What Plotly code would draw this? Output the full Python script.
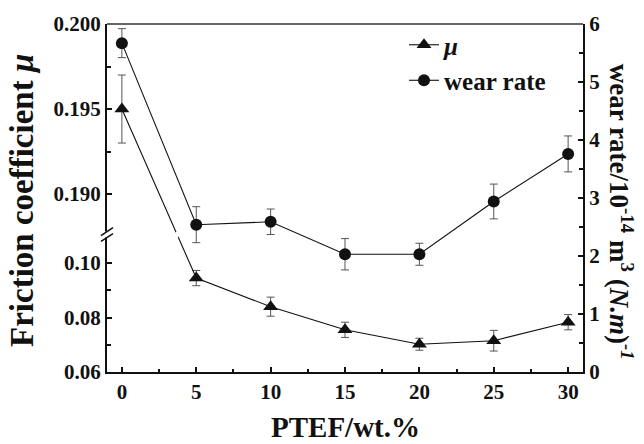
import plotly.graph_objects as go

# ---------------- data ----------------
x_wt = [0, 5, 10, 15, 20, 25, 30]
mu = [0.195, 0.0945, 0.084, 0.0755, 0.0702, 0.0715, 0.0783]
mu_err = [0.002, 0.0028, 0.0035, 0.0028, 0.0022, 0.0038, 0.0028]
wear = [5.67, 2.54, 2.59, 2.03, 2.03, 2.94, 3.76]
wear_err = [0.25, 0.31, 0.22, 0.27, 0.19, 0.30, 0.31]

left_major = [0.06, 0.08, 0.10, 0.190, 0.195, 0.200]
left_labels = ["0.06", "0.08", "0.10", "0.190", "0.195", "0.200"]
left_minor = [0.07, 0.09, 0.1925, 0.1975]
x_ticks = [0, 5, 10, 15, 20, 25, 30]

# ---------------- broken-axis scale ----------------
LOW = (0.06, 0.1105)
HIGH = (0.18762, 0.2000)
BRK = 0.395  # fraction of plot height where the axis is broken


def T(v):
    if v <= LOW[1]:
        return (v - LOW[0]) / (LOW[1] - LOW[0]) * BRK
    return BRK + (v - HIGH[0]) / (HIGH[1] - HIGH[0]) * (1 - BRK)


mu_t = [T(v) for v in mu]
mu_ep = [T(v + e) - T(v) for v, e in zip(mu, mu_err)]
mu_em = [T(v) - T(v - e) for v, e in zip(mu, mu_err)]

W, H = 644, 444
ML, MR, MT, MB = 107, 61, 20, 72
PW, PH = W - ML - MR, H - MT - MB
px = 1.0 / PW
py = 1.0 / PH

FONT = "Liberation Serif, Times New Roman, serif"
INK = "#111111"

fig = go.Figure()

fig.add_trace(go.Scatter(
    x=x_wt, y=mu_t, mode="lines+markers", name="<i>μ</i>",
    line=dict(color=INK, width=1.1),
    marker=dict(symbol="triangle-up", size=13, color=INK),
    error_y=dict(type="data", array=mu_ep, arrayminus=mu_em, symmetric=False,
                 color="#555555", thickness=1, width=4),
    yaxis="y",
))
fig.add_trace(go.Scatter(
    x=x_wt, y=wear, mode="lines+markers", name="wear rate",
    line=dict(color=INK, width=1.1),
    marker=dict(symbol="circle", size=12, color=INK),
    error_y=dict(type="data", array=wear_err, color="#555555", thickness=1, width=4),
    yaxis="y2",
))

tickfont = dict(family=FONT, size=21, color="#111", weight="bold")

fig.update_layout(
    width=W, height=H, autosize=False,
    margin=dict(l=ML, r=MR, t=MT, b=MB),
    paper_bgcolor="white", plot_bgcolor="white",
    showlegend=True,
    legend=dict(x=(404 - ML) * px, y=1 + (MT - 18) * py, xanchor="left", yanchor="top",
                bgcolor="rgba(0,0,0,0)", font=dict(family=FONT, size=25, color="#111", weight="bold"),
                tracegroupgap=0),
    xaxis=dict(range=[-1, 31], tickvals=x_ticks, ticks="inside", ticklen=5, tickwidth=1.5,
               tickcolor="#111", showline=True, linewidth=2, linecolor="#111",
               showgrid=False, zeroline=False, tickfont=tickfont,
               minor=dict(dtick=2.5, tick0=0, ticks="inside", ticklen=3, tickcolor="#111")),
    yaxis=dict(range=[0, 1], tickmode="array", tickvals=[T(v) for v in left_major],
               ticktext=left_labels, ticks="inside", ticklen=5, tickwidth=1.5, tickcolor="#111",
               showline=True, linewidth=2, linecolor="#111", showgrid=False, zeroline=False,
               tickfont=tickfont,
               minor=dict(tickmode="array", tickvals=[T(v) for v in left_minor], ticks="inside",
                          ticklen=4, tickcolor="#111")),
    yaxis2=dict(range=[0, 6], overlaying="y", side="right", dtick=1, ticks="inside", ticklen=5,
                tickwidth=1.5, tickcolor="#111", showline=True, linewidth=2, linecolor="#111",
                showgrid=False, zeroline=False, tickfont=tickfont,
                minor=dict(dtick=0.5, ticks="inside", ticklen=4, tickcolor="#111")),
)

# axis titles
fig.add_annotation(text="Friction coefficient <i>μ</i>", xref="paper", yref="paper",
                   x=(22 - ML) * px, y=(372 - 199) * py, textangle=-90, showarrow=False,
                   xanchor="center", yanchor="middle",
                   font=dict(family=FONT, size=33, color="#111", weight="bold"))
fig.add_annotation(text="wear rate/10<sup>-14</sup> m<sup>3</sup> (<i>N.m</i>)<sup><i>-1</i></sup>",
                   xref="paper", yref="paper", x=(621 - ML) * px, y=(372 - 210) * py,
                   textangle=90, showarrow=False, xanchor="center", yanchor="middle",
                   font=dict(family=FONT, size=27, color="#111", weight="bold"))
fig.add_annotation(text="PTEF/wt.%", xref="paper", yref="paper", x=0.5, y=-(428 - 372) * py,
                   showarrow=False, xanchor="center", yanchor="middle",
                   font=dict(family=FONT, size=29, color="#111", weight="bold"))

shapes = []
# top border
shapes.append(dict(type="line", xref="paper", yref="paper", x0=0, x1=1, y0=1, y1=1,
                   line=dict(color="#666666", width=2), layer="above"))
# axis break: white gap on left axis and two slash marks
shapes.append(dict(type="rect", xref="paper", yref="paper", x0=-4 * px, x1=4 * px,
                   y0=BRK - 3 * py, y1=BRK + 3 * py, fillcolor="white",
                   line=dict(width=0), layer="above"))
for off in (-3, 3):
    shapes.append(dict(type="line", xref="paper", yref="paper",
                       x0=-6 * px, y0=BRK + (off - 4) * py, x1=6 * px, y1=BRK + (off + 4) * py,
                       line=dict(color="#111", width=1.5), layer="above"))
# gap in the mu line where it crosses the break
t0, t1 = mu_t[0], mu_t[1]
xc = x_wt[0] + (BRK - t0) / (t1 - t0) * (x_wt[1] - x_wt[0])
dxu = 5 / (PW / 32.0)
shapes.append(dict(type="line", xref="x", yref="paper",
                   x0=xc - dxu, y0=BRK - 4 * py, x1=xc + dxu, y1=BRK + 4 * py,
                   line=dict(color="white", width=5), layer="above"))
fig.update_layout(shapes=shapes)

fig.write_html("out.html")
